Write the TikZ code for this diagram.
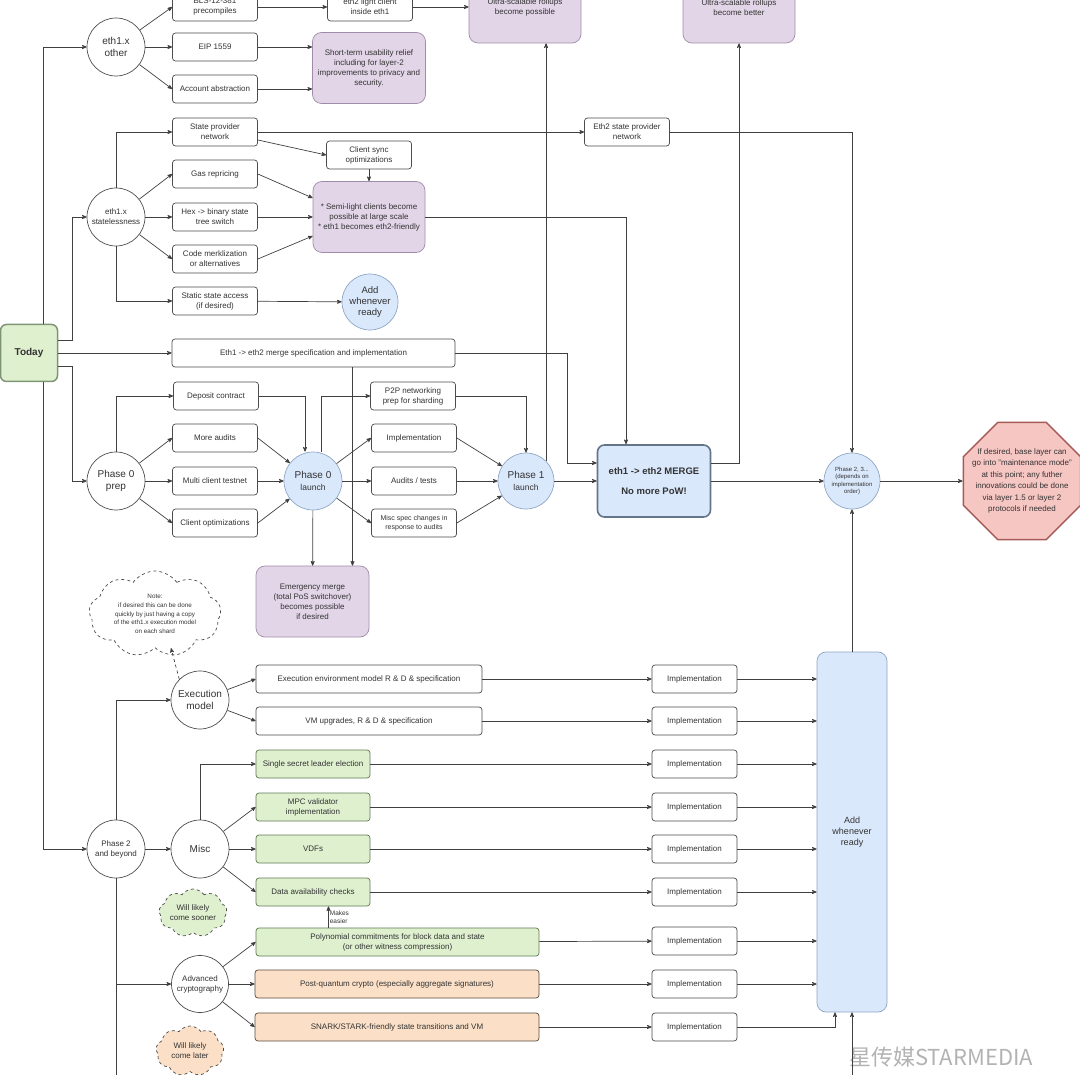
\documentclass[tikz,border=0pt]{standalone}
\usepackage{fontspec}
\setmainfont{Liberation Sans}
\newfontfamily\cjkfont{Noto Sans CJK SC}
\usetikzlibrary{arrows,shapes}
\definecolor{purplefill}{HTML}{E1D5E7}
\definecolor{purpleline}{HTML}{A08CAA}
\definecolor{bluefill}{HTML}{DAE8FC}
\definecolor{blueline}{HTML}{8FA6C4}
\definecolor{greenfill}{HTML}{DFF0CF}
\definecolor{greenline}{HTML}{5E7A52}
\definecolor{orangefill}{HTML}{FBE0C7}
\definecolor{orangeline}{HTML}{5C4A3A}
\definecolor{redfill}{HTML}{F6C6C3}
\definecolor{redline}{HTML}{A55A56}
\definecolor{txt}{HTML}{333333}
\tikzset{
  basenode/.style = {align=center, inner sep=1pt, text centered, text=txt,
    font=\fontsize{8}{10}\selectfont},
  box/.style = {basenode, rectangle, rounded corners=3pt, draw=black!70, fill=white,
    minimum width=85pt, minimum height=28pt},% plain step
  widebox/.style = {box, minimum width=226pt},
  purplebox/.style = {basenode, rectangle, rounded corners=9pt, draw=purpleline, fill=purplefill,
    minimum width=112pt, minimum height=71pt},
  greenbox/.style = {box, fill=greenfill, draw=greenline, minimum width=114pt},
  orangebox/.style = {box, fill=orangefill, draw=orangeline, minimum width=284pt},
  vertex/.style = {basenode, circle, draw=black!70, fill=white, minimum size=58pt, inner sep=0pt,
    font=\fontsize{10}{11.5}\selectfont},
  bvertex/.style = {vertex, fill=bluefill, draw=blueline, minimum size=56pt},
  notecloud/.style = {basenode, cloud, cloud puffs=9, cloud puff arc=110, cloud ignores aspect,
    draw=black!70, dashed, inner sep=0pt},
  octo/.style = {regular polygon, regular polygon sides=8, minimum size=127pt, inner sep=0pt,
    fill=redfill, draw=redline, line width=1.4pt},
}

\begin{document}
\begin{tikzpicture}[x=1pt,y=-1pt,->,>=stealth',line width=0.7pt,draw=black!75]
\useasboundingbox (0,0) rectangle (1080,1075);

% eth1.x other
\node[vertex] (other) at (116,47) {eth1.x\\other};
\node[box] (bls) at (215,7) {BLS-12-381\\precompiles};
\node[box] (light) at (370,7) {eth2 light client\\inside eth1};
\node[purplebox] (upos) at (525,7.5) {Ultra-scalable rollups\\become possible};
\node[purplebox] (ubet) at (739,7.5) {Ultra-scalable rollups\\become better};
\node[box] (eip) at (215,47) {EIP 1559};
\node[box] (aa) at (215,89) {Account abstraction};
\node[purplebox, minimum width=113pt] (relief) at (369,68) {Short-term usability relief\\including for layer-2\\improvements to privacy and\\security.};

% eth1.x statelessness
\node[box] (spn) at (215,132) {State provider\\network};
\node[box] (csync) at (369,155) {Client sync\\optimizations};
\node[box] (gas) at (215,174) {Gas repricing};
\node[vertex, font=\fontsize{8}{10}\selectfont] (stateless) at (116,217) {eth1.x\\statelessness};
\node[box] (hex) at (215,217) {Hex -> binary state\\tree switch};
\node[box] (code) at (215,259) {Code merklization\\or alternatives};
\node[box] (static) at (215,301) {Static state access\\(if desired)};
\node[purplebox] (semi) at (369,217) {* Semi-light clients become\\possible at large scale\\* eth1 becomes eth2-friendly};
\node[bvertex, font=\fontsize{9.5}{11}\selectfont] (addsmall) at (370,302) {Add\\whenever\\ready};
\node[box] (espn) at (627,132) {Eth2 state provider\\network};

% today and the merge
\node[basenode, rectangle, rounded corners=6pt, fill=greenfill, draw=greenline!80, line width=1.5pt,
  minimum size=57pt, font=\bfseries\fontsize{10}{12}\selectfont] (today) at (29,353) {Today};
\node[box, minimum width=283pt] (spec) at (313.5,353) {Eth1 -> eth2 merge specification and implementation};
\node[basenode, rectangle, rounded corners=7pt, fill=bluefill, draw=blueline!70!black, line width=1.6pt,
  minimum width=113pt, minimum height=72pt, font=\bfseries\fontsize{9.5}{11}\selectfont] (merge) at (654,481)
  {eth1 -> eth2 MERGE\\[9pt]No more PoW!};

% phase 0
\node[vertex] (p0prep) at (116,481) {Phase 0\\prep};
\node[box] (dep) at (216,396) {Deposit contract};
\node[box] (maud) at (215,438) {More audits};
\node[box] (multi) at (215,481) {Multi client testnet};
\node[box] (copt) at (215,523) {Client optimizations};
\node[bvertex, minimum size=58pt] (p0l) at (313,481) {Phase 0\\{\fontsize{8.5}{10}\selectfont launch}};
\node[box] (p2p) at (413,396) {P2P networking\\prep for sharding};
\node[box] (impl) at (414,438) {Implementation};
\node[box] (audits) at (414,481) {Audits / tests};
\node[box, font=\fontsize{7}{9}\selectfont] (mspec) at (414,523) {Misc spec changes in\\response to audits};
\node[bvertex] (p1) at (526,481) {Phase 1\\{\fontsize{8.5}{10}\selectfont launch}};
\node[purplebox, minimum width=113pt] (emerg) at (312.5,601.5) {Emergency merge\\(total PoS switchover)\\becomes possible\\if desired};
\node[bvertex, font=\fontsize{6}{7.5}\selectfont] (ph23) at (852,481) {Phase 2, 3...\\(depends on\\implementation\\order)};
\node[octo, label={[basenode, font=\fontsize{8}{11.4}\selectfont]center:If desired, base layer can\\go into "maintenance mode"\\at this point; any futher\\innovations could be done\\via layer 1.5 or layer 2\\protocols if needed}] (stop) at (1022,481) {};

% phase 2 and beyond
\node[notecloud, minimum width=132pt, minimum height=86pt,
  label={[basenode, font=\fontsize{6.3}{8.6}\selectfont]center:Note:\\if desired this can be done\\quickly by just having a copy\\of the eth1.x execution model\\on each shard}] (note) at (155,614) {};
\node[vertex] (exec) at (200,700) {Execution\\model};
\node[widebox] (eenv) at (369,679) {Execution environment model R \& D \& specification};
\node[widebox] (vmup) at (369,721) {VM upgrades, R \& D \& specification};
\node[greenbox] (ssle) at (313,764) {Single secret leader election};
\node[greenbox] (mpc) at (313,807) {MPC validator\\implementation};
\node[vertex, font=\fontsize{8}{10}\selectfont] (p2) at (116,849) {Phase 2\\and beyond};
\node[vertex] (misc) at (200,849) {Misc};
\node[greenbox] (vdf) at (313,849) {VDFs};
\node[greenbox] (dac) at (313,892) {Data availability checks};
\node[notecloud, fill=greenfill, minimum width=68pt, minimum height=48pt,
  label={[basenode]center:Will likely\\come sooner}] (sooner) at (193,913) {};
\node[greenbox, minimum width=283pt] (poly) at (397.5,942) {Polynomial commitments for block data and state\\(or other witness compression)};
\node[vertex, minimum size=57pt, font=\fontsize{8}{10}\selectfont] (adv) at (200,984) {Advanced\\cryptography};
\node[orangebox] (pq) at (397,984) {Post-quantum crypto (especially aggregate signatures)};
\node[orangebox] (snark) at (397,1027) {SNARK/STARK-friendly state transitions and VM};
\node[notecloud, fill=orangefill, minimum width=68pt, minimum height=50pt,
  label={[basenode]center:Will likely\\come later}] (later) at (190,1051) {};
\foreach \y [count=\i] in {679,721,764,807,849,892,941,984,1027}
  \node[box] (imp\i) at (694.5,\y) {Implementation};
\node[basenode, rectangle, rounded corners=9pt, fill=bluefill, draw=blueline, minimum width=70pt,
  minimum height=360pt, font=\fontsize{9}{11}\selectfont] (addbig) at (852,832) {Add\\whenever\\ready};
\coordinate (p2end) at (116,1080);
\coordinate (addin) at (852,1080);
\node[basenode, text=black!30, font=\cjkfont\fontsize{22}{24}\selectfont] (mark) at (941,1057) {星传媒STARMEDIA};

% connectors, top
\draw (other) -- (bls.west);
\draw (other) -- (eip);
\draw (other) -- (aa.west);
\draw (bls) -- (light);
\draw (light) -- (light -| upos.west);
\draw (eip) -- (eip -| relief.west);
\draw (aa) -- (aa -| relief.west);
\draw (stateless.north) |- (spn);
\draw (stateless) -- (gas.west);
\draw (stateless) -- (hex);
\draw (stateless) -- (code.west);
\draw (stateless.south) |- (static);
\draw ([yshift=-8pt]spn.east) -- (csync.west);
\draw (spn) -- (espn);
\draw (espn) -| (ph23);
\draw (csync) -- (semi);
\draw (gas.east) -- ([yshift=19pt]semi.west);
\draw (hex) -- (semi);
\draw (code.east) -- ([yshift=-19pt]semi.west);
\draw (static) -- (addsmall);
\draw (semi) -| ([xshift=-28pt]merge.north);

% connectors, today
\draw ([xshift=14pt]today.north) |- (other);
\draw ([yshift=13pt]today.east) -- ++(14,0) |- (stateless);
\draw (today) -- (spec);
\draw ([yshift=-13pt]today.east) -- ++(14,0) |- (p0prep);
\draw ([xshift=14pt]today.south) |- (p2);

% connectors, phase 0 and 1
\draw (p0prep.north) |- (dep);
\draw (p0prep) -- (maud.west);
\draw (p0prep) -- (multi);
\draw (p0prep) -- (copt.west);
\draw (dep) -| ([xshift=-8pt]p0l.north);
\draw (maud.east) -- (p0l);
\draw (multi) -- (p0l);
\draw (copt.east) -- (p0l);
\draw ([xshift=8pt]p0l.north) |- (p2p);
\draw (p0l) -- (impl.west);
\draw (p0l) -- (audits);
\draw (p0l) -- (mspec.west);
\draw (p0l) -- (emerg);
\draw ([xshift=39pt]spec.south) -- ([xshift=39pt]spec.south |- emerg.north);
\draw (p2p) -| (p1);
\draw (impl.east) -- (p1);
\draw (audits) -- (p1);
\draw (mspec.east) -- (p1);
\draw (p1) -- (merge);
\draw (p1.45) -- (p1.45 |- upos.south);
\draw (spec.east) -- ++(112,0) |- ([yshift=18pt]merge.west);
\draw ([yshift=18pt]merge.east) -| (ubet);
\draw (merge) -- (ph23);
\draw (ph23) -- (stop);
\draw (addbig) -- (ph23);

% connectors, phase 2
\draw (p2.north) |- (exec);
\draw (p2) -- (misc);
\draw[-] (p2.south) -- (p2end);
\draw (p2.south) |- (adv);
\draw[dashed] (exec.north west) -- ([xshift=16pt]note.south);
\draw (exec) -- (eenv.west);
\draw (exec) -- (vmup.west);
\draw (misc.north) |- (ssle);
\draw (misc) -- (mpc.west);
\draw (misc) -- (vdf);
\draw (misc) -- (dac.west);
\draw (adv) -- (poly.west);
\draw (adv) -- (pq);
\draw (adv) -- (snark.west);
\draw ([xshift=-69pt]poly.north) -- ([xshift=-69pt]poly.north |- dac.south)
  node[basenode, midway, right, font=\fontsize{6.5}{8}\selectfont, align=left] (easier) {Makes\\easier};
\foreach \s [count=\i] in {eenv,vmup,ssle,mpc,vdf,dac,poly,pq,snark}
  \draw (\s) -- (imp\i);
\foreach \i in {1,...,8}
  \draw (imp\i) -- (imp\i -| addbig.west);
\draw (imp9) -| ([xshift=-17pt]addbig.south);
\draw (addin) -- (addbig.south);
\end{tikzpicture}
\end{document}
